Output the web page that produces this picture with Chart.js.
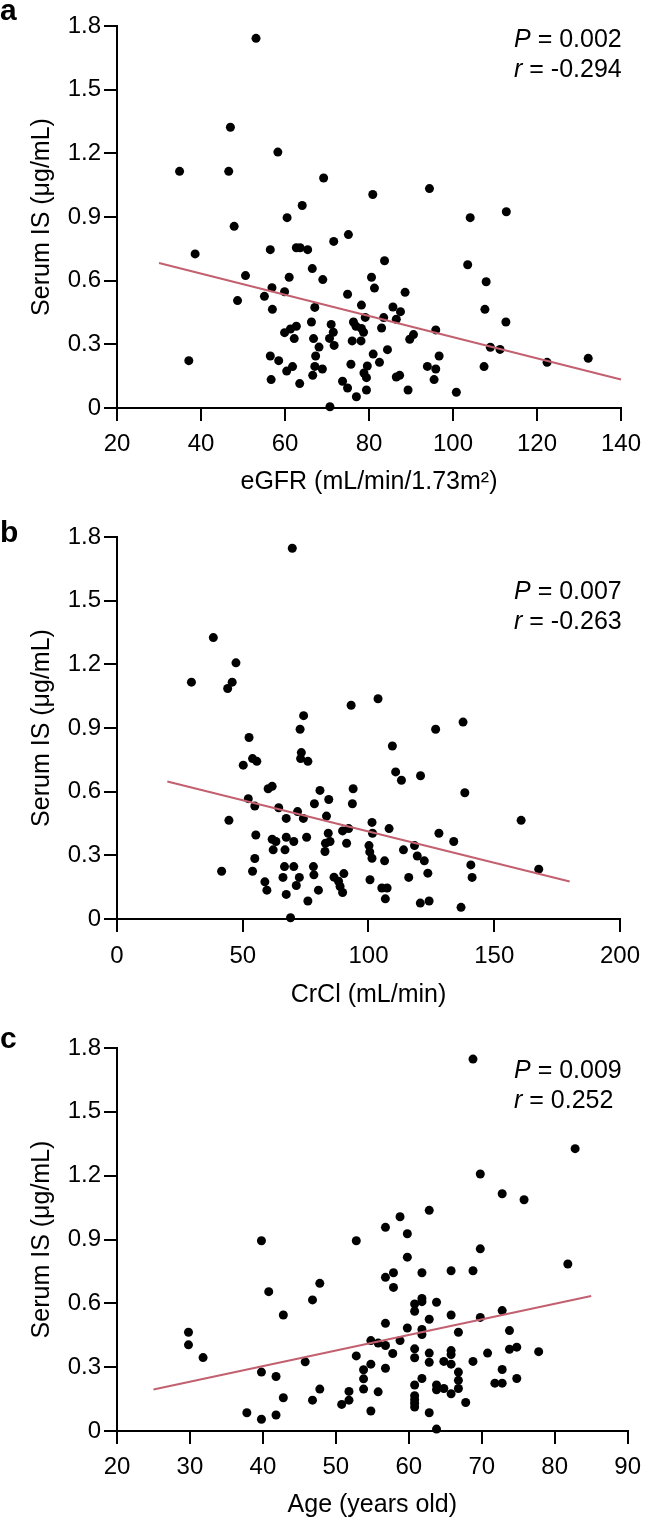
<!DOCTYPE html>
<html><head><meta charset="utf-8">
<script src="https://cdn.jsdelivr.net/npm/chart.js@4.4.0/dist/chart.umd.min.js"></script>
<style>
body{margin:0;background:#fff;width:650px;height:1520px;position:relative;overflow:hidden;font-family:"Liberation Sans",Arial,Helvetica,sans-serif;color:#000}
canvas{position:absolute;left:0}
.lab{position:absolute;left:0;font-weight:bold;font-size:30px;line-height:30px}
.stat{position:absolute;left:514px;font-size:25px;line-height:30px;white-space:nowrap}
</style></head>
<body>
<canvas id="ca" width="650" height="500" style="top:0px"></canvas>
<canvas id="cb" width="650" height="510" style="top:500px"></canvas>
<canvas id="cc" width="650" height="510" style="top:1010px"></canvas>
<div class="lab" style="top:-5px">a</div>
<div class="lab" style="top:517px">b</div>
<div class="lab" style="top:1023px">c</div>
<div class="stat" style="top:23px"><i>P</i> = 0.002<br><i>r</i> = -0.294</div>
<div class="stat" style="top:575px"><i>P</i> = 0.007<br><i>r</i> = -0.263</div>
<div class="stat" style="top:1054px"><i>P</i> = 0.009<br><i>r</i> = 0.252</div>
<script>
// ---- shared y axis ----
const yTicks = [0, 0.3, 0.6, 0.9, 1.2, 1.5, 1.8];
const yTickLabels = ['0', '0.3', '0.6', '0.9', '1.2', '1.5', '1.8'];
const yTitle = 'Serum IS (\u03bcg/mL)';

// ---- panel a: eGFR ----
const eGFR = [53.1,47.0,58.3,34.9,46.6,69.2,80.9,94.4,64.1,60.5,104.1,112.7,
47.9,38.6,56.5,62.7,63.6,65.4,71.6,75.1,50.6,61.0,
66.5,69.0,83.7,80.6,81.3,88.6,103.5,107.9,107.6,112.6,
56.9,55.1,48.7,59.9,57.0,67.1,74.9,78.2,85.7,87.5,
86.5,83.5,79.1,66.3,76.3,71.0,76.9,78.2,78.7,83.0,
62.7,61.3,59.9,62.2,66.8,71.5,70.6,71.7,68.1,76.0,
78.1,90.6,89.7,95.9,108.9,111.2,84.4,81.0,67.3,56.5,
58.5,37.1,96.7,122.4,132.2,61.8,60.4,67.1,68.9,75.7,
79.6,82.5,78.8,79.4,93.9,95.9,107.4,86.5,87.3,95.5,
56.7,66.6,63.5,73.7,74.9,77.0,79.4,89.3,100.8,70.7];
const isA = [1.742,1.323,1.206,1.115,1.115,1.084,1.006,1.034,0.954,0.897,0.897,0.925,
0.856,0.726,0.746,0.755,0.755,0.746,0.785,0.817,0.624,0.616,
0.657,0.605,0.694,0.616,0.565,0.545,0.675,0.595,0.465,0.405,
0.567,0.526,0.506,0.548,0.465,0.474,0.536,0.485,0.476,0.454,
0.418,0.426,0.427,0.405,0.405,0.394,0.385,0.375,0.357,0.377,
0.385,0.372,0.355,0.327,0.327,0.357,0.328,0.295,0.287,0.316,
0.316,0.346,0.324,0.368,0.286,0.276,0.275,0.254,0.245,0.245,
0.223,0.223,0.245,0.215,0.234,0.195,0.174,0.196,0.184,0.206,
0.198,0.215,0.165,0.143,0.196,0.184,0.195,0.146,0.154,0.134,
0.134,0.154,0.115,0.126,0.094,0.053,0.085,0.085,0.074,0.006];
const fitAX = [30, 140];
const fitAY = [0.683, 0.134];
const xTicksA = [20, 40, 60, 80, 100, 120, 140];

// ---- panel b: CrCl ----
const crcl = [69.7,38.3,47.3,29.6,45.8,44.0,93.1,103.8,74.2,137.6,
72.8,126.7,52.5,50.2,53.9,55.6,73.3,73.0,75.9,109.5,
110.8,113.1,120.7,138.3,160.7,167.7,60.1,61.7,80.7,93.9,
52.2,54.8,64.3,71.8,84.2,78.5,93.6,44.5,67.3,74.1,
83.3,101.4,101.6,108.2,89.7,92.1,84.0,128.0,133.9,55.2,
61.7,63.2,67.3,70.3,75.4,82.9,84.7,82.7,91.3,100.2,
100.5,101.4,113.9,118.3,119.4,122.2,62.1,66.8,54.8,106.4,
66.6,70.3,78.1,41.6,53.9,66.0,72.5,78.3,90.2,86.3,
88.1,88.7,89.7,123.6,116.0,140.7,141.2,100.6,58.8,59.6,
71.3,67.3,80.1,75.9,105.3,107.4,106.7,120.6,124.1,136.8,69.0];
const isB = [1.747,1.326,1.207,1.116,1.116,1.086,1.007,1.038,0.958,0.928,
0.894,0.894,0.855,0.725,0.756,0.743,0.784,0.756,0.743,0.815,
0.693,0.654,0.675,0.595,0.465,0.235,0.614,0.625,0.606,0.614,
0.567,0.532,0.524,0.506,0.563,0.543,0.543,0.465,0.474,0.474,
0.485,0.455,0.404,0.426,0.415,0.426,0.404,0.404,0.365,0.396,
0.376,0.365,0.385,0.365,0.385,0.357,0.365,0.318,0.357,0.346,
0.316,0.286,0.326,0.346,0.297,0.274,0.326,0.326,0.285,0.274,
0.247,0.247,0.247,0.225,0.225,0.196,0.196,0.208,0.214,0.197,
0.178,0.153,0.125,0.216,0.196,0.255,0.196,0.185,0.175,0.136,
0.158,0.116,0.136,0.085,0.146,0.146,0.095,0.075,0.085,0.055,0.006];
const fitBX = [20, 180];
const fitBY = [0.648, 0.177];
const xTicksB = [0, 50, 100, 150, 200];

// ---- panel c: Age ----
const age = [68.8,82.8,69.8,72.8,75.8,62.8,58.8,56.8,59.8,39.8,52.8,69.8,59.8,81.8,
56.8,57.9,61.8,65.8,68.8,47.8,40.8,57.9,46.8,61.8,
61.8,60.8,63.8,60.8,42.8,65.8,72.8,69.8,62.8,56.8,
59.8,61.8,61.8,66.8,73.8,29.8,29.8,31.8,54.8,55.8,
56.8,58.8,60.8,60.8,57.8,62.8,62.8,65.8,65.8,65.8,
64.8,70.8,68.8,73.8,74.8,77.8,66.8,72.8,52.8,54.8,
53.8,53.8,56.8,45.8,39.8,41.8,61.8,66.8,60.8,63.8,
63.8,64.8,66.8,65.8,71.8,72.8,74.8,47.8,51.8,55.8,
53.8,60.8,60.8,60.8,60.8,42.8,46.8,51.8,50.8,67.8,
37.8,39.8,41.8,54.8,62.8,63.8];
const isC = [1.748,1.327,1.208,1.115,1.087,1.037,1.007,0.957,0.927,0.894,0.894,0.856,0.817,0.785,
0.722,0.744,0.744,0.753,0.753,0.694,0.655,0.675,0.616,0.623,
0.608,0.597,0.605,0.563,0.545,0.545,0.566,0.534,0.525,0.506,
0.484,0.477,0.453,0.464,0.472,0.464,0.405,0.345,0.425,0.413,
0.402,0.425,0.386,0.344,0.364,0.366,0.323,0.378,0.359,0.314,
0.327,0.366,0.327,0.384,0.394,0.373,0.277,0.289,0.353,0.314,
0.288,0.245,0.295,0.325,0.277,0.256,0.247,0.238,0.216,0.216,
0.194,0.200,0.200,0.175,0.225,0.225,0.247,0.197,0.186,0.184,
0.197,0.166,0.147,0.113,0.131,0.156,0.145,0.145,0.125,0.134,
0.086,0.055,0.075,0.094,0.086,0.009];
const fitCX = [25, 85];
const fitCY = [0.195, 0.634];
const xTicksC = [20, 30, 40, 50, 60, 70, 80, 90];

const FONT = '"Liberation Sans", Arial, Helvetica, sans-serif';

function makePanel(id, p) {
  const pts = p.xs.map((x, i) => ({x: x, y: p.ys[i]}));
  const fit = p.fitX.map((x, i) => ({x: x, y: p.fitY[i]}));
  new Chart(document.getElementById(id), {
    type: 'scatter',
    data: {
      datasets: [
        {data: pts, backgroundColor: '#000', borderColor: '#000', borderWidth: 0,
         pointRadius: 4.5, pointHoverRadius: 4.5, clip: false, order: 2},
        {type: 'line', data: fit, borderColor: '#c3606f', borderWidth: 2,
         pointRadius: 0, fill: false, clip: false, order: 1}
      ]
    },
    options: {
      responsive: false, animation: false, events: [],
      plugins: {legend: {display: false}, tooltip: {enabled: false}},
      layout: {padding: {top: p.padTop, right: 21, left: 0, bottom: 0}},
      scales: {
        x: {
          type: 'linear', min: p.xTicks[0], max: p.xTicks[p.xTicks.length - 1],
          afterBuildTicks: s => { s.ticks = p.xTicks.map(v => ({value: v})); },
          afterFit: s => { s.height = p.xh; },
          ticks: {callback: v => String(v), font: {family: FONT, size: 24}, color: '#000',
                  padding: p.tickPad, maxRotation: 0, autoSkip: false},
          grid: {drawOnChartArea: false, drawTicks: true, tickLength: 13, lineWidth: 2, color: '#000'},
          border: {display: true, color: '#000', width: 2},
          title: {display: true, text: p.xTitle, font: {family: FONT, size: 25}, color: '#000',
                  padding: {top: 0, bottom: p.titlePad}}
        },
        y: {
          type: 'linear', min: 0, max: 1.8,
          afterBuildTicks: s => { s.ticks = yTicks.map(v => ({value: v})); },
          afterFit: s => { s.width = 117; },
          ticks: {callback: (v, i) => yTickLabels[i], font: {family: FONT, size: 24}, color: '#000',
                  padding: 3, autoSkip: false},
          grid: {drawOnChartArea: false, drawTicks: true, tickLength: 13, lineWidth: 2, color: '#000'},
          border: {display: true, color: '#000', width: 2},
          title: {display: true, text: yTitle, font: {family: FONT, size: 25}, color: '#000',
                  padding: {top: 27, bottom: 0}}
        }
      }
    }
  });
}

makePanel('ca', {xs: eGFR, ys: isA, fitX: fitAX, fitY: fitAY, xTicks: xTicksA,
  xTitle: 'eGFR (mL/min/1.73m\u00b2)', padTop: 26, xh: 92, tickPad: 9, titlePad: 3});
makePanel('cb', {xs: crcl, ys: isB, fitX: fitBX, fitY: fitBY, xTicks: xTicksB,
  xTitle: 'CrCl (mL/min)', padTop: 37, xh: 91, tickPad: 10, titlePad: 0});
makePanel('cc', {xs: age, ys: isC, fitX: fitCX, fitY: fitCY, xTicks: xTicksC,
  xTitle: 'Age (years old)', padTop: 38, xh: 89, tickPad: 9, titlePad: 0});
</script>
</body></html>
